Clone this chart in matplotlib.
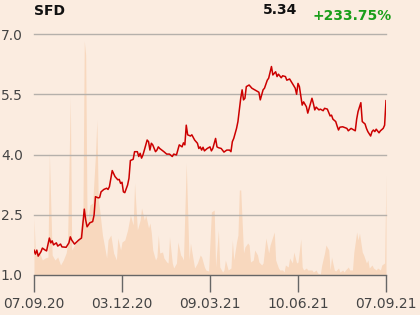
import matplotlib
matplotlib.use("Agg")
import matplotlib.pyplot as plt

# ---- data (trading-day index, value) ----
price_days = [0,1,2,3,5,6,8,9,11,12,13,14,16,17,19,20,23,25,26,27,29,32,34,36,37,38,40,42,43,44,46,47,48,50,52,53,54,56,58,60,61,
              62,63,64,65,67,68,69,71,72,74,75,76,77,78,79,81,82,83,84,85,87,88,89,90,93,95,97,99,100,102,104,106,107,108,109,110,112,113,115,117,118,119,120,121,122,124,126,127,128,130,131,
              132,134,136,138,140,141,142,143,145,146,148,149,150,151,152,154,156,158,161,162,164,165,167,168,170,171,173,174,175,177,178,180,181,183,185,186,187,188,189,190,
              192,193,195,196,199,200,201,202,204,205,207,208,210,212,213,214,216,217,218,219,221,224,225,227,228,230,231,232,234,235,237,238,239,241,242,243,244,245,247,248,250,251,252]
price = [1.62,1.52,1.62,1.47,1.58,1.67,1.62,1.60,1.92,1.80,1.85,1.75,1.80,1.72,1.77,1.70,1.69,1.80,1.95,1.87,1.77,1.87,1.92,2.64,2.37,2.20,2.30,2.33,2.49,2.95,2.92,2.93,3.07,3.13,3.16,3.13,3.20,3.60,3.45,3.37,3.38,
         3.28,3.31,3.07,3.05,3.24,3.41,3.85,3.88,4.07,4.07,3.95,4.03,3.91,3.99,4.11,4.36,4.32,4.11,4.28,4.24,4.07,4.11,4.19,4.15,4.07,4.01,4.01,3.95,4.01,3.99,4.24,4.19,4.29,4.24,4.73,4.49,4.46,4.49,4.36,4.28,4.15,4.19,4.11,4.18,4.09,4.15,4.19,4.09,4.15,4.40,4.19,
         4.17,4.15,4.06,4.11,4.11,4.07,4.32,4.40,4.65,4.82,5.40,5.61,5.36,5.40,5.69,5.73,5.65,5.61,5.55,5.36,5.61,5.65,5.85,5.90,6.19,5.98,6.06,5.94,6.00,5.91,5.96,5.94,5.85,5.88,5.77,5.71,5.65,5.50,5.77,5.69,
         5.23,5.31,5.19,5.03,5.40,5.27,5.11,5.18,5.11,5.13,5.09,5.15,5.13,4.96,4.98,4.88,4.82,4.71,4.61,4.68,4.69,4.65,4.59,4.65,4.63,4.59,4.88,5.07,5.29,4.82,4.76,4.65,4.57,4.46,4.57,4.61,4.57,4.63,4.54,4.59,4.65,4.73,5.34]

vol_days = [0,1,3,4,6,8,10,11,13,15,17,19,21,23,24,26,27,29,32,33,34,35,36,37,38,40,42,44,45,46,47,49,52,53,55,57,59,60,62,63,65,67,69,71,72,74,76,77,79,80,
            82,83,84,85,87,88,89,90,92,93,95,96,97,99,100,102,103,105,106,107,109,111,112,114,115,117,119,120,122,123,125,127,129,130,132,133,135,136,137,139,141,142,143,145,146,147,148,150,151,153,
            154,155,157,158,160,161,163,164,166,168,169,172,173,175,176,178,179,180,182,183,185,186,188,189,191,192,193,195,196,198,199,200,202,203,205,206,208,209,211,212,213,215,216,218,219,
            221,222,223,225,226,228,229,231,232,233,235,236,238,239,240,242,243,245,246,248,249,251,252]
volume = [57,22,22,22,15,17,18,122,20,15,18,10,15,22,30,178,25,30,35,43,55,55,234,220,50,70,72,120,155,75,65,40,17,35,40,22,15,37,25,33,35,45,60,50,92,45,55,67,55,60,
          47,52,42,25,15,18,40,22,23,17,13,12,38,12,7,12,33,20,18,15,112,15,32,15,7,12,20,18,8,5,4,63,65,8,45,8,3,5,15,5,7,35,15,33,40,85,85,22,28,32,
          30,13,15,25,20,13,10,12,37,22,30,43,15,7,5,5,3,10,8,17,12,23,12,13,36,8,5,7,5,5,5,3,5,2,1,10,22,30,25,5,18,5,4,7,3,
          5,3,5,8,5,5,23,43,35,42,23,20,12,15,7,10,7,5,7,5,10,12,100]

tick_pos = [0, 63, 126, 189, 252]
tick_labels = ["07.09.20", "03.12.20", "09.03.21", "10.06.21", "07.09.21"]
y_ticks = [1.0, 2.5, 4.0, 5.5, 7.0]

title = "SFD"
last_price = "5.34"
change = "+233.75%"

# ---- styling ----
BG = "#fbece0"
fig = plt.figure(figsize=(4.2, 3.15), dpi=100, facecolor=BG)
ax = fig.add_axes([34/420, 1-275/315, 352/420, 241/315])
ax.set_facecolor(BG)

axv = ax.twinx()
axv.fill_between(vol_days, 0, volume, color="#f8d8be", linewidth=0, zorder=1)
axv.set_ylim(0, 241)
axv.set_axis_off()
ax.set_zorder(axv.get_zorder() + 1)
ax.patch.set_visible(False)
axv.patch.set_visible(False)
fig.patches.append(plt.Rectangle((34/420, 1-275/315), 352/420, 241/315, transform=fig.transFigure, color=BG, zorder=-10))

ax.plot(price_days, price, color="#cc0000", linewidth=1.1, zorder=3)

ax.set_xlim(0, 252)
ax.set_ylim(1.0, 7.0)
ax.set_yticks(y_ticks)
ax.set_yticklabels([f"{v:.1f}" for v in y_ticks])
ax.set_xticks(tick_pos)
ax.set_xticklabels(tick_labels)
for v in y_ticks[1:]:
    ax.axhline(v, color="#b5b0ab", linewidth=1.0, zorder=2, clip_on=False)

for s in ["top", "right", "left"]:
    ax.spines[s].set_visible(False)
ax.spines["bottom"].set_color("#666666")
ax.spines["bottom"].set_linewidth(1.0)
ax.tick_params(axis="y", length=0, pad=8, labelsize=10, labelcolor="#444444")
ax.tick_params(axis="x", length=12, width=1, color="#666666", pad=4, labelsize=10, labelcolor="#444444")

fig.text(34/420, 1-11/315, title, fontsize=10, fontweight="bold", color="#111111", ha="left", va="center")
fig.text(297/420, 1-10/315, last_price, fontsize=10, fontweight="bold", color="#111111", ha="right", va="center")
fig.text(312/420, 1-16/315, change, fontsize=10, fontweight="bold", color="#1a9e1a", ha="left", va="center")

fig.savefig("out.png", dpi=100, facecolor=BG)
